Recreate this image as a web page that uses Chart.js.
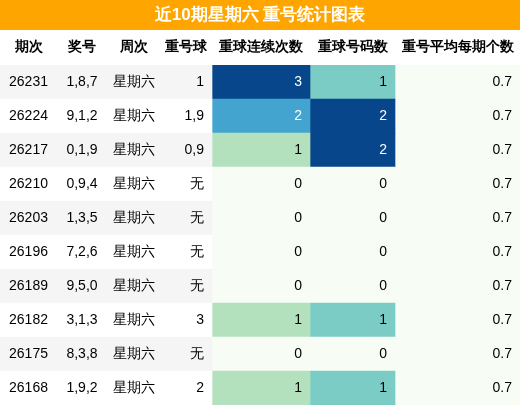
<!DOCTYPE html>
<html><head><meta charset="utf-8">
<script src="https://cdn.jsdelivr.net/npm/chart.js@4"></script>
<style>body{margin:0;background:#fff}#wrap{width:520px;height:405px}</style>
</head><body><div id="wrap"><canvas id="c"></canvas></div>
<script>
const title = "近10期星期六 重号统计图表";
const headers = ["期次", "奖号", "周次", "重号球", "重球连续次数", "重球号码数", "重号平均每期个数"];
const issues = ["26231","26224","26217","26210","26203","26196","26189","26182","26175","26168"];
const numbers = ["1,8,7","9,1,2","0,1,9","0,9,4","1,3,5","7,2,6","9,5,0","3,1,3","8,3,8","1,9,2"];
const weekdays = ["星期六","星期六","星期六","星期六","星期六","星期六","星期六","星期六","星期六","星期六"];
const repeatBalls = ["1","1,9","0,9","无","无","无","无","3","无","2"];
const streak = [3,2,1,0,0,0,0,1,0,1];
const repeatCount = [1,2,2,0,0,0,0,1,0,1];
const avgPerIssue = [0.7,0.7,0.7,0.7,0.7,0.7,0.7,0.7,0.7,0.7];

const colEdges = [0,57,107,160,212,310,395,520];
const FONT = "'Liberation Sans', Arial, sans-serif";

function gnbu(v, max) {
  const t = v / max;
  if (v === 0) return "#f7fcf5";
  if (t >= 0.99) return "#08468b";
  if (t >= 0.6) return "#43a5cf";
  if (t >= 0.45) return "#7bccc4";
  return "#b4e1bd";
}
const rowBg = issues.map((_, i) => i % 2 === 0 ? "#f5f5f5" : "#ffffff");
const textCols = [issues, numbers, weekdays, repeatBalls, streak, repeatCount, avgPerIssue];
const fills = [
  rowBg, rowBg, rowBg, rowBg,
  streak.map(v => gnbu(v, 3)),
  repeatCount.map(v => gnbu(v, 2)),
  avgPerIssue.map(() => "#f7fcf5")
];

const datasets = headers.map((h, c) => ({
  label: h,
  data: issues.map(() => [colEdges[c], colEdges[c + 1]]),
  backgroundColor: fills[c],
  borderWidth: 0,
  barPercentage: 1,
  categoryPercentage: 1
}));

const tablePlugin = {
  id: "tableText",
  afterDatasetsDraw(chart) {
    const ctx = chart.ctx, x = chart.scales.x, y = chart.scales.y;
    const top = chart.chartArea.top;
    ctx.save();
    ctx.fillStyle = "#ffa500";
    ctx.fillRect(0, 0, chart.width, 30);
    ctx.fillStyle = "#fff";
    ctx.font = "bold 17px " + FONT;
    ctx.textAlign = "center"; ctx.textBaseline = "middle";
    ctx.fillText(title, chart.width / 2, 15);
    ctx.fillStyle = "#000";
    ctx.font = "bold 14px " + FONT;
    headers.forEach((h, c) => {
      const cx = (x.getPixelForValue(colEdges[c]) + x.getPixelForValue(colEdges[c + 1])) / 2;
      ctx.fillText(h, cx, (30 + top) / 2);
    });
    ctx.font = "14px " + FONT;
    issues.forEach((_, r) => {
      const cy = y.getPixelForValue(r);
      textCols.forEach((col, c) => {
        const v = col[r];
        const x0 = x.getPixelForValue(colEdges[c]), x1 = x.getPixelForValue(colEdges[c + 1]);
        if (c < 3) { ctx.textAlign = "center"; ctx.fillStyle = "#000"; ctx.fillText(v, (x0 + x1) / 2, cy); }
        else {
          ctx.textAlign = "right";
          const dark = (c === 4 && v >= 2) || (c === 5 && v >= 2);
          ctx.fillStyle = dark ? "#fff" : "#000";
          ctx.fillText(typeof v === "number" ? String(v) : v, x1 - 8, cy);
        }
      });
    });
    ctx.restore();
  }
};

new Chart(document.getElementById("c"), {
  type: "bar",
  data: { labels: issues, datasets },
  options: {
    indexAxis: "y",
    responsive: true, maintainAspectRatio: false, animation: false,
    layout: { padding: { top: 65, left: 0, right: 0, bottom: 0 } },
    plugins: { legend: { display: false }, tooltip: { enabled: false } },
    scales: {
      x: { type: "linear", min: 0, max: 520, display: false, stacked: false },
      y: { type: "category", display: false, stacked: true }
    }
  },
  plugins: [tablePlugin]
});
</script></body></html>
